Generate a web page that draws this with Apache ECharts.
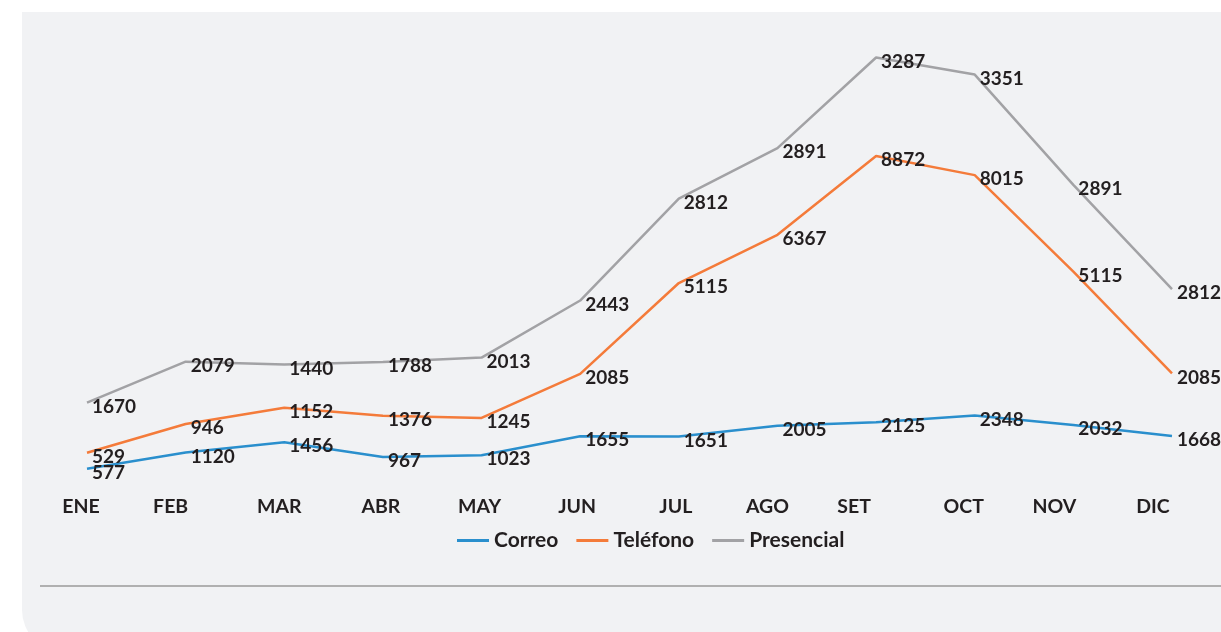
<!DOCTYPE html>
<html>
<head>
<meta charset="utf-8">
<script src="https://cdn.jsdelivr.net/npm/echarts@6/dist/echarts.min.js"></script>
<style>
html,body{margin:0;padding:0;background:#fff;}
#chart{width:1221px;height:632px;}
</style>
</head>
<body>
<div id="chart"></div>
<script>
const months = ['ENE','FEB','MAR','ABR','MAY','JUN','JUL','AGO','SET','OCT','NOV','DIC'];
const correo = [577, 1120, 1456, 967, 1023, 1655, 1651, 2005, 2125, 2348, 2032, 1668];
const telefono = [529, 946, 1152, 1376, 1245, 2085, 5115, 6367, 8872, 8015, 5115, 2085];
const presencial = [1670, 2079, 1440, 1788, 2013, 2443, 2812, 2891, 3287, 3351, 2891, 2812];

// leftward shift of each month label relative to its point (style only)
const labelShift = [6, 15, 5, 2, 2, 3, 3, 10, 22, 11, 19, 19];
const FONT = 'Lato';
const rich = {};
labelShift.forEach((s, i) => {
  rich['m' + i] = {
    fontFamily: FONT, fontWeight: 'bold', fontSize: 19.5, color: '#231f20',
    padding: [0, 2 * s, 0, 0]
  };
});

const labelStyle = {
  show: true, position: 'right', distance: 5, offset: [0, 4],
  fontFamily: FONT, fontWeight: 'bold', fontSize: 19, color: '#231f20'
};

function mkSeries(name, data, color) {
  return {
    name, type: 'line', stack: 'total', data,
    showSymbol: true, symbol: 'circle', symbolSize: 0,
    lineStyle: { width: 2.5, color },
    itemStyle: { color },
    label: labelStyle,
    emphasis: { disabled: true }
  };
}

const chart = echarts.init(document.getElementById('chart'));
chart.setOption({
  backgroundColor: '#ffffff',
  animation: false,
  graphic: [
    { type: 'rect', z: -10, shape: { x: 22, y: 12, width: 1240, height: 640, r: [0, 0, 0, 42] },
      style: { fill: '#f1f2f4' } },
    { type: 'line', z: -5, shape: { x1: 40, y1: 586, x2: 1221, y2: 586 },
      style: { stroke: '#9a9a9a', lineWidth: 1.5 } }
  ],
  legend: {
    left: 452, top: 525, icon: 'rect', itemWidth: 32, itemHeight: 3, itemGap: 18,
    textStyle: { fontFamily: FONT, fontWeight: 'bold', fontSize: 21, color: '#231f20' },
    data: ['Correo', 'Teléfono', 'Presencial']
  },
  grid: { left: 87, right: 1221 - 1172, top: 36, bottom: 146, containLabel: false },
  xAxis: {
    type: 'category', data: months, boundaryGap: false,
    axisLine: { show: false }, axisTick: { show: false }, splitLine: { show: false },
    axisLabel: {
      interval: 0, margin: 11,
      formatter: (v, i) => '{m' + i + '|' + v + '}',
      rich
    }
  },
  yAxis: { type: 'value', min: 0, max: 15000, show: false, splitLine: { show: false } },
  series: [
    mkSeries('Correo', correo, '#2a8fcd'),
    mkSeries('Teléfono', telefono, '#f47b3a'),
    mkSeries('Presencial', presencial, '#a2a2a5')
  ]
});
</script>
</body>
</html>
